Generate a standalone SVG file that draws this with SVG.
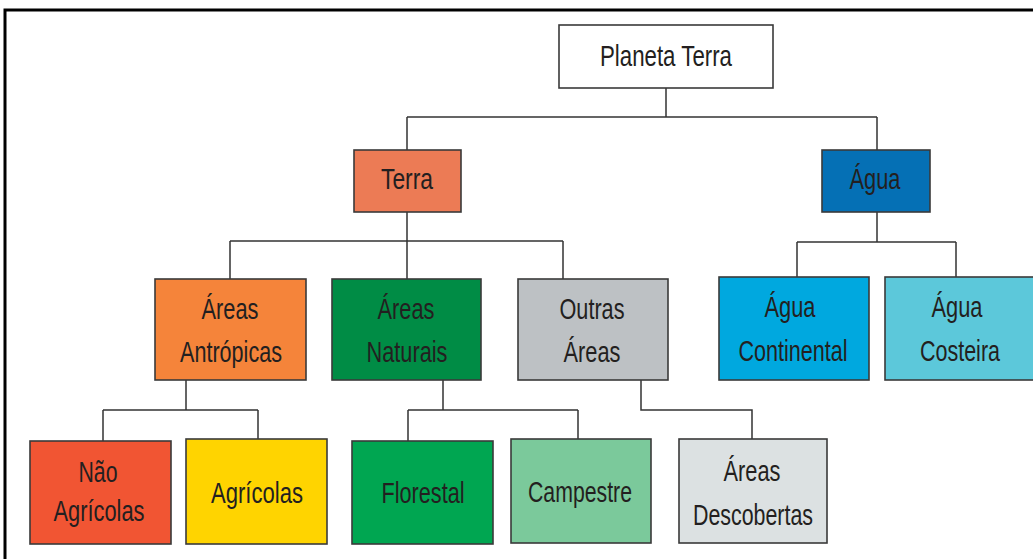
<svg xmlns="http://www.w3.org/2000/svg" width="1033" height="559" viewBox="0 0 1033 559">
<style>
.box{stroke:#3a3a3a;stroke-width:1.6}
.t{font-family:"Liberation Sans",Arial,sans-serif;font-size:29px;fill:#231f20;text-anchor:middle}
.c{fill:none;stroke:#333;stroke-width:1.5}
</style>
<rect width="1033" height="559" fill="#fff"/>
<path d="M5,559 V10 H1033" fill="none" stroke="#000" stroke-width="3"/>
<g id="connectors">
<path class="c" d="M666,88 V117 M407,117 H877 M407,117 V150 M877,117 V150"/>
<path class="c" d="M407,212 V241 M230,241 H563 M230,241 V279 M407,241 V279 M563,241 V279"/>
<path class="c" d="M877,212 V242 M797,242 H956 M797,242 V277 M956,242 V277"/>
<path class="c" d="M186,380 V410 M103,410 H258 M103,410 V441 M258,410 V439"/>
<path class="c" d="M443,380 V410 M408,410 H578 M408,410 V441 M578,410 V439"/>
<path class="c" d="M641,380 V410 H752 V439"/>
</g>
<g id="planeta-terra"><rect class="box" x="559" y="25" width="214" height="63" fill="#fff"/><text class="t" x="666" y="66" textLength="132" lengthAdjust="spacingAndGlyphs">Planeta Terra</text></g>
<g id="terra"><rect class="box" x="354" y="150" width="107" height="62" fill="#ec7b55"/><text class="t" x="407" y="189" textLength="52" lengthAdjust="spacingAndGlyphs">Terra</text></g>
<g id="agua"><rect class="box" x="822" y="150" width="108" height="62" fill="#0570b5"/><text class="t" x="875" y="189" textLength="51" lengthAdjust="spacingAndGlyphs">Água</text></g>
<g id="areas-antropicas"><rect class="box" x="155" y="279" width="151" height="101" fill="#f5843a"/><text class="t" x="230" y="319" textLength="57" lengthAdjust="spacingAndGlyphs">Áreas</text><text class="t" x="231" y="362" textLength="102" lengthAdjust="spacingAndGlyphs">Antrópicas</text></g>
<g id="areas-naturais"><rect class="box" x="332" y="279" width="149" height="101" fill="#008c45"/><text class="t" x="406" y="319" textLength="57" lengthAdjust="spacingAndGlyphs">Áreas</text><text class="t" x="407" y="362" textLength="81" lengthAdjust="spacingAndGlyphs">Naturais</text></g>
<g id="outras-areas"><rect class="box" x="518" y="279" width="150" height="101" fill="#bdc1c4"/><text class="t" x="592" y="319" textLength="65" lengthAdjust="spacingAndGlyphs">Outras</text><text class="t" x="592" y="362" textLength="57" lengthAdjust="spacingAndGlyphs">Áreas</text></g>
<g id="agua-continental"><rect class="box" x="719" y="277" width="150" height="103" fill="#00a8df"/><text class="t" x="790" y="317" textLength="51" lengthAdjust="spacingAndGlyphs">Água</text><text class="t" x="793" y="361" textLength="109" lengthAdjust="spacingAndGlyphs">Continental</text></g>
<g id="agua-costeira"><rect class="box" x="885" y="277" width="152" height="103" fill="#5cc8da"/><text class="t" x="957" y="317" textLength="51" lengthAdjust="spacingAndGlyphs">Água</text><text class="t" x="960" y="361" textLength="80" lengthAdjust="spacingAndGlyphs">Costeira</text></g>
<g id="nao-agricolas"><rect class="box" x="30" y="441" width="141" height="103" fill="#f15533"/><text class="t" x="98" y="482" textLength="39" lengthAdjust="spacingAndGlyphs">Não</text><text class="t" x="99" y="521" textLength="91" lengthAdjust="spacingAndGlyphs">Agrícolas</text></g>
<g id="agricolas"><rect class="box" x="186" y="439" width="141" height="105" fill="#ffd400"/><text class="t" x="257" y="503" textLength="92" lengthAdjust="spacingAndGlyphs">Agrícolas</text></g>
<g id="florestal"><rect class="box" x="352" y="441" width="141" height="103" fill="#00a651"/><text class="t" x="423" y="503" textLength="83" lengthAdjust="spacingAndGlyphs">Florestal</text></g>
<g id="campestre"><rect class="box" x="511" y="439" width="140" height="104" fill="#7bc99b"/><text class="t" x="580" y="502" textLength="104" lengthAdjust="spacingAndGlyphs">Campestre</text></g>
<g id="areas-descobertas"><rect class="box" x="679" y="439" width="148" height="104" fill="#dce1e2"/><text class="t" x="752" y="481" textLength="57" lengthAdjust="spacingAndGlyphs">Áreas</text><text class="t" x="753" y="525" textLength="120" lengthAdjust="spacingAndGlyphs">Descobertas</text></g>
</svg>
